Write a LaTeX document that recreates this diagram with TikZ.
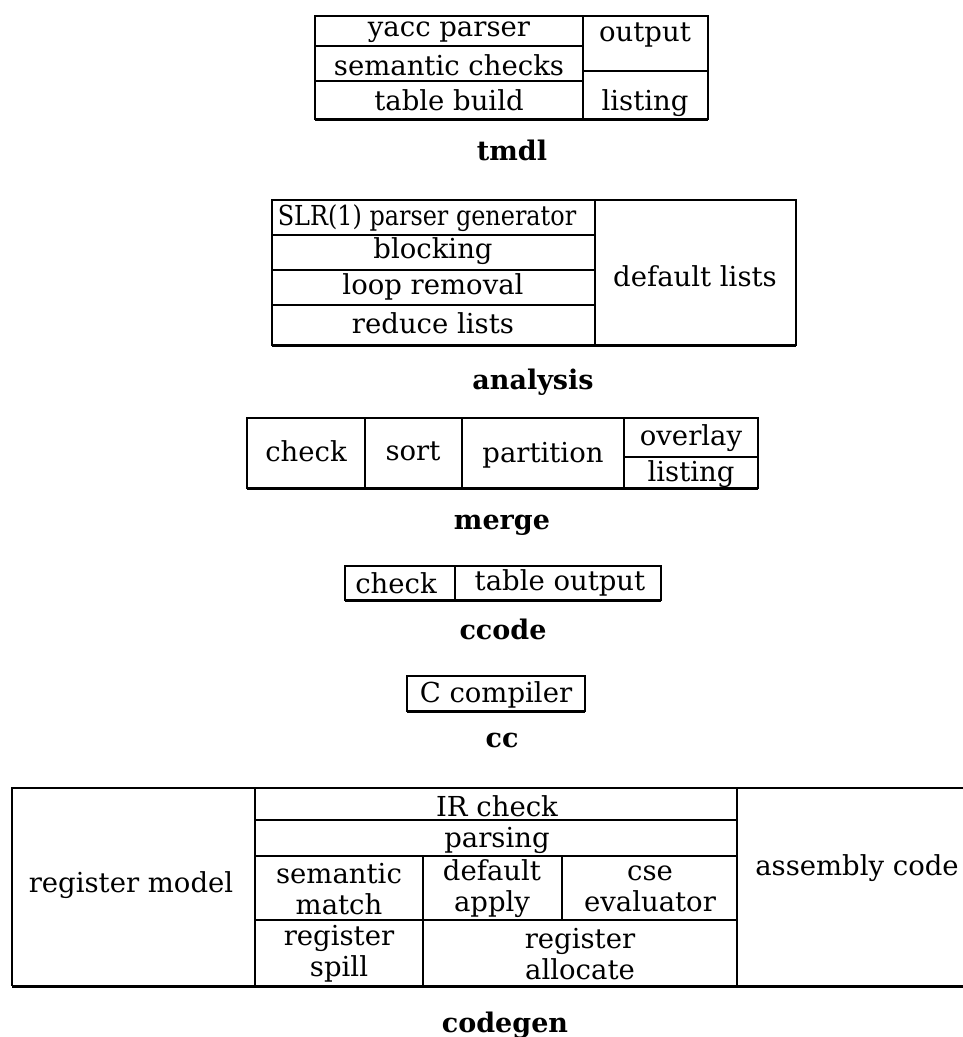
\documentclass[tikz,border=0pt]{standalone}
\usepackage{fontspec}
\setmainfont{DejaVu Serif}
\begin{document}
\begin{tikzpicture}[x=1pt,y=-1pt,
  frame/.style={line width=2pt},
  heavy/.style={line width=3pt},
  txt/.style={inner sep=0pt,font=\fontsize{27.5}{31}\selectfont,align=center},
  tcaption/.style={inner sep=0pt,font=\fontsize{27}{30}\selectfont\bfseries}]
\useasboundingbox (0,0) rectangle (963,1037);
% ---------- tmdl ----------
\draw[frame] (315,16) rectangle (708,119);
\draw[heavy] (315,119) -- (708,119);
\draw[frame] (583,16) -- (583,119);
\draw[frame] (315,46) -- (583,46);
\draw[frame] (315,81) -- (583,81);
\draw[frame] (583,71) -- (708,71);
\node[txt] (yacc) at (449,32) {yacc parser};
\node[txt] (sem) at (449,65) {semantic checks};
\node[txt] (tbuild) at (449,100) {table build};
\node[txt] (tout) at (645,35) {output};
\node[txt] (tlist) at (645,103) {listing};
\node[tcaption] (tmdl) at (512,150) {tmdl};
% ---------- analysis ----------
\draw[frame] (272,200) rectangle (796,345);
\draw[heavy] (272,345) -- (796,345);
\draw[frame] (595,200) -- (595,345);
\draw[frame] (272,235) -- (595,235);
\draw[frame] (272,270) -- (595,270);
\draw[frame] (272,305) -- (595,305);
\node[txt] (slr) at (427,218) {\addfontfeatures{FakeStretch=0.87}SLR(1) parser generator};
\node[txt] (block) at (433,251) {blocking};
\node[txt] (loop) at (433,287) {loop removal};
\node[txt] (reduce) at (433,323) {reduce lists};
\node[txt] (deflists) at (695,276) {default lists};
\node[tcaption] (analysis) at (533,382) {analysis};
% ---------- merge ----------
\draw[frame] (247,418) rectangle (758,488);
\draw[heavy] (247,488) -- (758,488);
\draw[frame] (365,418) -- (365,488);
\draw[frame] (462,418) -- (462,488);
\draw[frame] (624,418) -- (624,488);
\draw[frame] (624,457) -- (758,457);
\node[txt] (mcheck) at (306,451) {check};
\node[txt] (msort) at (413,451) {sort};
\node[txt] (mpart) at (543,455) {partition};
\node[txt] (moverlay) at (691,438) {overlay};
\node[txt] (mlist) at (691,474) {listing};
\node[tcaption] (merge) at (502,525) {merge};
% ---------- ccode ----------
\draw[frame] (345,566) rectangle (661,600);
\draw[heavy] (345,600) -- (661,600);
\draw[frame] (455,566) -- (455,600);
\node[txt] (ccheck) at (396,583) {check};
\node[txt] (ctab) at (560,583) {table output};
\node[tcaption] (ccode) at (503,629) {ccode};
% ---------- cc ----------
\draw[frame] (407,676) rectangle (585,711);
\draw[heavy] (407,711) -- (585,711);
\node[txt] (ccomp) at (496,695) {C compiler};
\node[tcaption] (cc) at (502,740) {cc};
% ---------- codegen ----------
\draw[frame] (963,788) -- (12,788) -- (12,986);
\draw[heavy] (12,986) -- (963,986);
\draw[frame] (255,788) -- (255,986);
\draw[frame] (737,788) -- (737,986);
\draw[frame] (255,820) -- (737,820);
\draw[frame] (255,856) -- (737,856);
\draw[frame] (255,920) -- (737,920);
\draw[frame] (423,856) -- (423,986);
\draw[frame] (562,856) -- (562,920);
\node[txt] (regmodel) at (131,885) {register model};
\node[txt] (ircheck) at (497,806) {IR check};
\node[txt] (parsing) at (497,840) {parsing};
\node[txt] (semmatch) at (339,889) {semantic\\match};
\node[txt] (defapply) at (492,889) {default\\apply};
\node[txt] (cse) at (650,889) {cse\\evaluator};
\node[txt] (spill) at (339,954) {register\\spill};
\node[txt] (alloc) at (580,954) {register\\allocate};
\node[txt] (asm) at (857,868) {assembly code};
\node[tcaption] (codegen) at (505,1025) {codegen};
\end{tikzpicture}
\end{document}
